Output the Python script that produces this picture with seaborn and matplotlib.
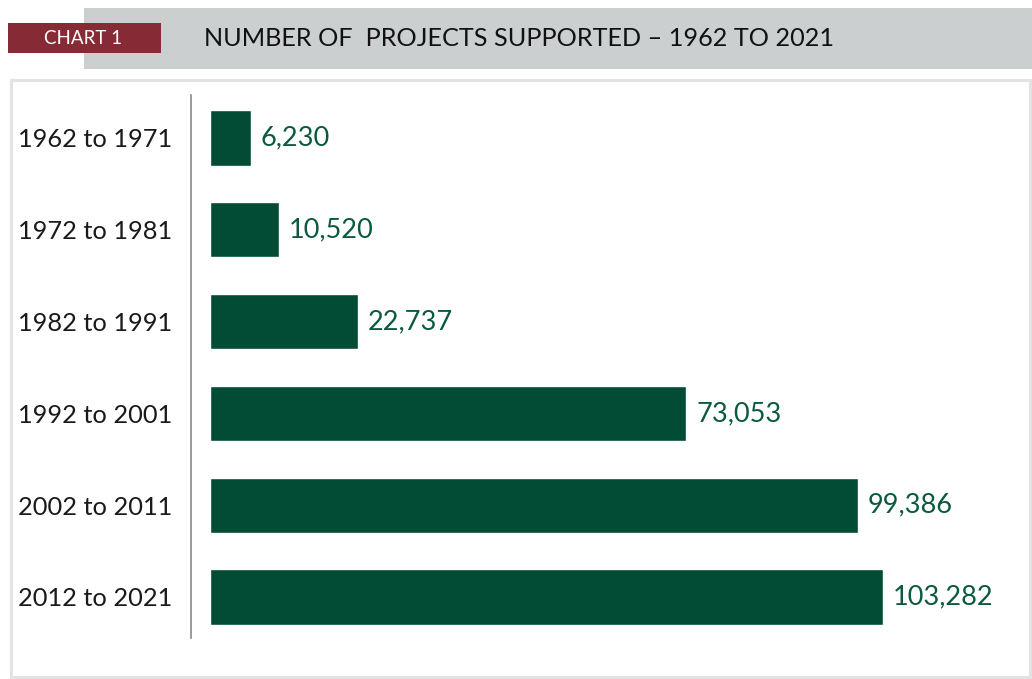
import matplotlib
matplotlib.use("Agg")
import matplotlib.pyplot as plt
from matplotlib.patches import Rectangle
import seaborn as sns
import pandas as pd

categories = ["1962 to 1971", "1972 to 1981", "1982 to 1991",
              "1992 to 2001", "2002 to 2011", "2012 to 2021"]
values = [6230, 10520, 22737, 73053, 99386, 103282]
value_labels = ["6,230", "10,520", "22,737", "73,053", "99,386", "103,282"]
title = "NUMBER OF  PROJECTS SUPPORTED \u2013 1962 TO 2021"
tag = "CHART 1"

sns.set_theme(style="white")
plt.rcParams['font.family'] = ['Lato', 'DejaVu Sans']

W, H = 1032, 679
fig = plt.figure(figsize=(W / 100, H / 100), dpi=100)
fig.patch.set_facecolor("white")

def fx(px):
    return px / W

def fy(py):
    return 1 - py / H

# header band
fig.patches.append(Rectangle((fx(84), fy(69)), fx(W - 84), (69 - 8) / H,
                             transform=fig.transFigure, facecolor="#cbcfd0",
                             edgecolor="none", zorder=0))
# red tag
fig.patches.append(Rectangle((fx(8), fy(53)), fx(153), 30 / H,
                             transform=fig.transFigure, facecolor="#862a35",
                             edgecolor="none", zorder=1))
fig.text(fx(83), fy(38), tag, color="white", fontsize=13.5,
         ha="center", va="center", zorder=2)
fig.text(fx(204), fy(38), title, color="#111111", fontsize=18.2,
         ha="left", va="center", zorder=2)
# panel border
fig.patches.append(Rectangle((fx(11), fy(677)), fx(1019), (677 - 80) / H,
                             transform=fig.transFigure, facecolor="none",
                             edgecolor="#e3e3e3", linewidth=2.2, zorder=0))

ax = fig.add_axes([fx(191), fy(638), fx(1010 - 191), (638 - 95) / H])
ax.set_zorder(5)
ax.set_facecolor("none")
df = pd.DataFrame({"period": categories, "projects": values})
sns.barplot(data=df, y="period", x="projects", orient="h", color="#024b35",
            saturation=1, width=0.6, ax=ax)

scale = (883 - 210) / 103282
ax.set_xlim(-19 / scale, -19 / scale + (1010 - 191) / scale)
ax.set_ylim(5.447, -0.468)
for i, (v, lab) in enumerate(zip(values, value_labels)):
    ax.annotate(lab, (v, i), xytext=(10, 0), textcoords="offset pixels",
                ha="left", va="center", color="#0b5a3d", fontsize=19.5)

for s in ["top", "right", "bottom"]:
    ax.spines[s].set_visible(False)
ax.spines["left"].set_color("#8a8a8a")
ax.spines["left"].set_linewidth(1.2)
ax.set_xticks([])
ax.set_xlabel("")
ax.set_ylabel("")
ax.tick_params(axis="y", length=0, pad=13.5, labelsize=18.3, labelcolor="#1a1a1a")

fig.savefig("out.png", dpi=100, facecolor="white")
